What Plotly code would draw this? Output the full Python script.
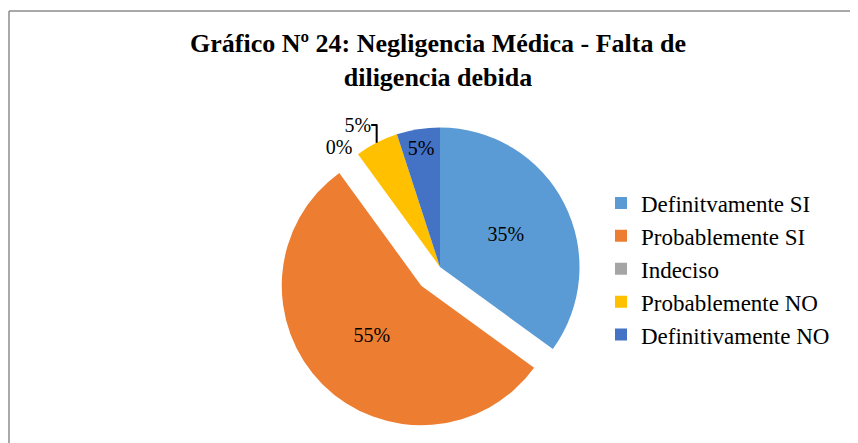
import plotly.graph_objects as go

categorias = ["Definitvamente SI", "Probablemente SI", "Indeciso", "Probablemente NO", "Definitivamente NO"]
porcentajes = [35, 55, 0, 5, 5]
colores = ["#5B9BD5", "#ED7D31", "#A5A5A5", "#FFC000", "#4472C4"]
separacion = [0, 0.19, 0, 0, 0]
posicion_texto = ["inside", "inside", "outside", "outside", "inside"]

# the page has an 8px body margin, so everything is placed 8px up/left
W, H = 858, 443
cx, cy, half = 432, 259, 166

pie = go.Pie(
    labels=categorias,
    values=porcentajes,
    marker=dict(colors=colores, line=dict(width=0)),
    sort=False,
    direction="clockwise",
    rotation=0,
    pull=separacion,
    texttemplate="%{percent:.0%}",
    textposition=posicion_texto,
    insidetextorientation="horizontal",
    textfont=dict(family="Liberation Serif", size=20, color="black"),
    domain=dict(x=[(cx - half) / W, (cx + half) / W], y=[1 - (cy + half) / H, 1 - (cy - half) / H]),
)

fig = go.Figure(data=[pie])
fig.update_layout(
    width=W, height=H,
    margin=dict(l=0, r=0, t=0, b=0, autoexpand=False),
    paper_bgcolor="white",
    title=dict(
        text="<b>Gráfico Nº 24: Negligencia Médica - Falta de<br>diligencia debida</b>",
        x=430 / W, xanchor="center",
        y=1 - 44 / H, yanchor="middle",
        font=dict(family="Liberation Serif", size=26, color="black"),
    ),
    legend=dict(
        x=593 / W, xanchor="left",
        y=1 - 261 / H, yanchor="middle",
        font=dict(family="Liberation Serif", size=23, color="black"),
        bgcolor="rgba(0,0,0,0)",
    ),
    shapes=[
        dict(type="line", xref="paper", yref="paper",
             x0=1 / W, x1=1.0, y0=1 - 3 / H, y1=1 - 3 / H,
             line=dict(color="#8c8c8c", width=1.5)),
        dict(type="line", xref="paper", yref="paper",
             x0=1 / W, x1=1 / W, y0=0, y1=1 - 3 / H,
             line=dict(color="#8c8c8c", width=1.5)),
    ],
)

fig.write_html("out.html")
